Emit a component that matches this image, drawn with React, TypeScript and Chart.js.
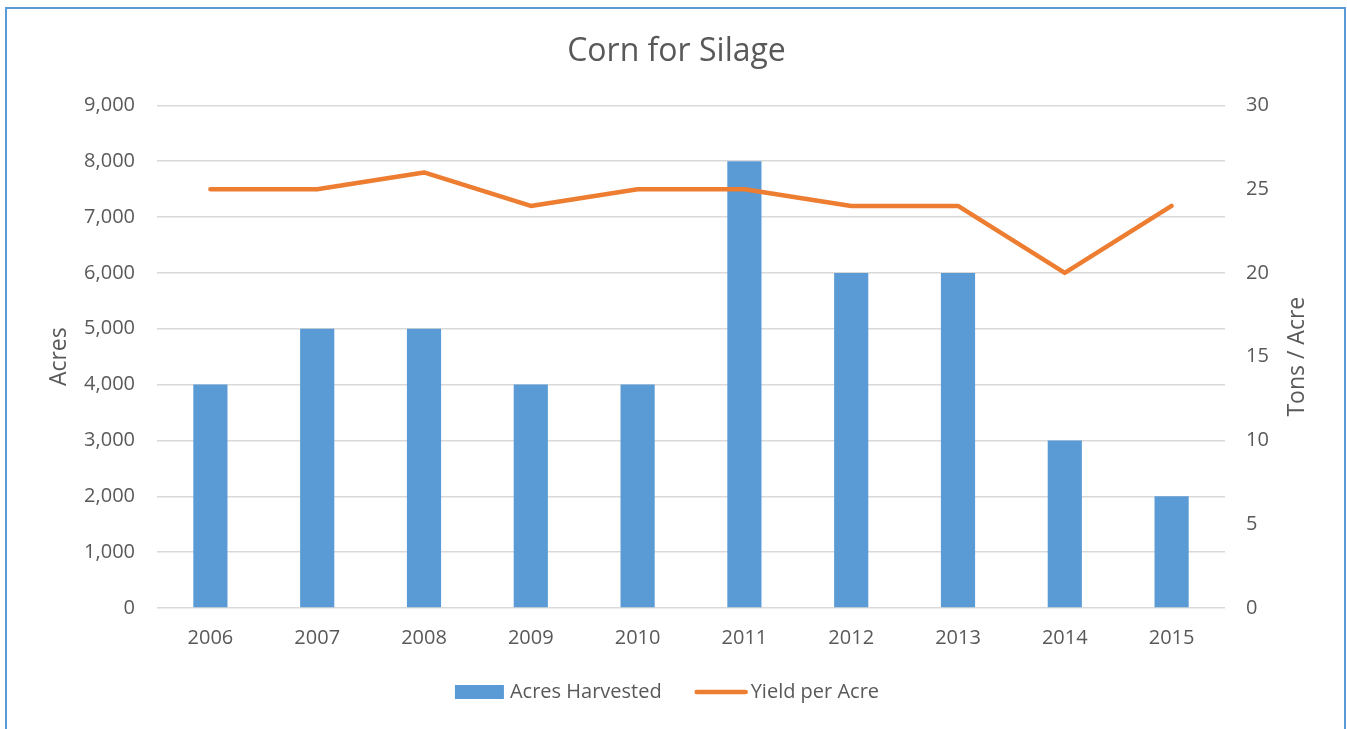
import { useEffect, useRef } from "react";
import { Chart, registerables } from "chart.js";

Chart.register(...registerables);

const chartTitle = "Corn for Silage";
const years = ["2006", "2007", "2008", "2009", "2010", "2011", "2012", "2013", "2014", "2015"];
const acresHarvested = [4000, 5000, 5000, 4000, 4000, 8000, 6000, 6000, 3000, 2000];
const yieldPerAcre = [25, 25, 26, 24, 25, 25, 24, 24, 20, 24];
const acresMax = 9000;
const acresStep = 1000;
const yieldMax = 30;
const yieldStep = 5;
const leftAxisTitle = "Acres";
const rightAxisTitle = "Tons / Acre";
const seriesNames = ["Acres Harvested", "Yield per Acre"];

const FONT = "'Open Sans', 'Noto Sans', sans-serif";
const TEXT = "#595959";
const BLUE = "#5B9BD5";
const ORANGE = "#ED7D31";
const GRID = "#D9D9D9";

const extrasPlugin = {
  id: "extras",
  afterDraw(chart: any) {
    const { ctx, chartArea } = chart;
    ctx.save();
    // right axis title, rotated bottom-to-top
    ctx.fillStyle = TEXT;
    ctx.font = `23px ${FONT}`;
    ctx.textAlign = "center";
    ctx.textBaseline = "middle";
    ctx.translate(1297, (chartArea.top + chartArea.bottom) / 2);
    ctx.rotate(-Math.PI / 2);
    ctx.fillText(rightAxisTitle, 0, 0);
    ctx.restore();

    // legend
    ctx.save();
    ctx.font = `20px ${FONT}`;
    ctx.textBaseline = "middle";
    ctx.textAlign = "left";
    const w1 = ctx.measureText(seriesNames[0]).width;
    const w2 = ctx.measureText(seriesNames[1]).width;
    const boxW = 49, gapA = 6, gapB = 33, lineW = 53, gapC = 3;
    const total = boxW + gapA + w1 + gapB + lineW + gapC + w2;
    const cy = 692;
    let x = 667 - total / 2;
    ctx.fillStyle = BLUE;
    ctx.fillRect(x, cy - 7, boxW, 14);
    x += boxW + gapA;
    ctx.fillStyle = TEXT;
    ctx.fillText(seriesNames[0], x, cy);
    x += w1 + gapB;
    ctx.strokeStyle = ORANGE;
    ctx.lineWidth = 4.5;
    ctx.lineCap = "round";
    ctx.beginPath();
    ctx.moveTo(x + 2, cy);
    ctx.lineTo(x + lineW - 2, cy);
    ctx.stroke();
    x += lineW + gapC;
    ctx.fillStyle = TEXT;
    ctx.fillText(seriesNames[1], x, cy);
    ctx.restore();
  },
};

export default function App() {
  const ref = useRef<HTMLCanvasElement | null>(null);

  useEffect(() => {
    if (!ref.current) return;
    const chart = new Chart(ref.current, {
      type: "bar",
      data: {
        labels: years,
        datasets: [
          {
            type: "bar",
            label: seriesNames[0],
            data: acresHarvested,
            backgroundColor: BLUE,
            borderWidth: 0,
            yAxisID: "y",
            barPercentage: 0.32,
            categoryPercentage: 1,
            order: 1,
          },
          {
            type: "line",
            label: seriesNames[1],
            data: yieldPerAcre,
            borderColor: ORANGE,
            backgroundColor: ORANGE,
            borderWidth: 4.5,
            pointRadius: 0,
            tension: 0,
            borderJoinStyle: "round",
            borderCapStyle: "round",
            yAxisID: "y1",
            order: 0,
          },
        ],
      } as any,
      plugins: [extrasPlugin],
      options: {
        responsive: false,
        animation: false,
        layout: { padding: { top: 0, left: 46, right: 40, bottom: 61 } },
        plugins: {
          tooltip: { enabled: false },
          legend: { display: false },
          title: {
            display: true,
            text: chartTitle,
            color: TEXT,
            font: { family: FONT, size: 32, weight: "normal" },
            padding: { top: 33, bottom: 34 },
          },
        },
        scales: {
          x: {
            grid: { display: false, drawTicks: false },
            border: { display: false },
            ticks: { color: TEXT, font: { family: FONT, size: 20 }, padding: 18 },
            afterFit: (s: any) => {
              s.height = 60;
            },
          },
          y: {
            position: "left",
            min: 0,
            max: acresMax,
            ticks: {
              stepSize: acresStep,
              color: TEXT,
              font: { family: FONT, size: 20 },
              padding: 22,
              callback: (v: any) => Number(v).toLocaleString("en-US"),
            },
            grid: { color: GRID, lineWidth: 1.5, drawTicks: false },
            border: { display: false },
            title: {
              display: true,
              text: leftAxisTitle,
              color: TEXT,
              font: { family: FONT, size: 23 },
              padding: 0,
            },
            afterFit: (s: any) => {
              s.width = 111;
            },
          },
          y1: {
            position: "right",
            min: 0,
            max: yieldMax,
            ticks: {
              stepSize: yieldStep,
              color: TEXT,
              font: { family: FONT, size: 20 },
              padding: 21,
            },
            grid: { display: false, drawTicks: false },
            border: { display: false },
            afterFit: (s: any) => {
              s.width = 82;
            },
          },
        },
      } as any,
    });
    return () => chart.destroy();
  }, []);

  return (
    <div style={{ position: "fixed", left: 0, top: 0, width: "100vw", height: "100vh", overflow: "hidden", background: "#fff" }}>
      <div
        style={{
          position: "absolute",
          left: 5,
          top: 7,
          width: 1341,
          height: 760,
          boxSizing: "border-box",
          border: `2px solid ${BLUE}`,
        }}
      />
      <canvas ref={ref} width={1347} height={729} style={{ position: "absolute", left: 0, top: 0 }} />
    </div>
  );
}
